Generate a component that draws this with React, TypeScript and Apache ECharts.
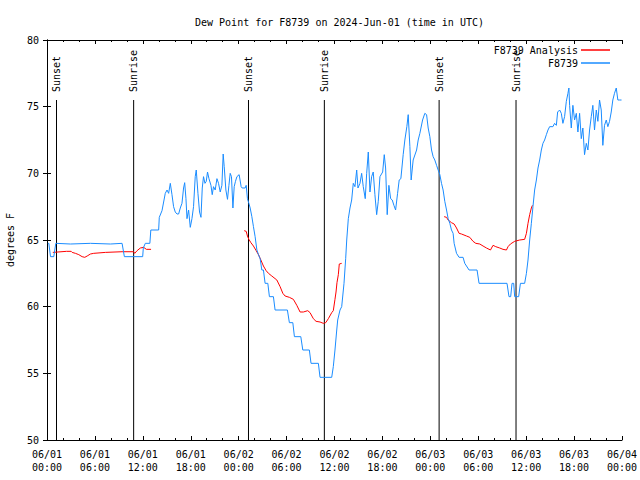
import React, { useEffect, useRef } from "react";
import * as echarts from "echarts";

const FONT = "'DejaVu Sans Mono', 'Liberation Mono', monospace";

const chartTitle = "Dew Point for F8739 on 2024-Jun-01 (time in UTC)";
const yName = "degrees F";
const seriesNames = ["F8739 Analysis", "F8739"];

// hours since 2024-06-01 00:00 UTC
const blueHours = [
  0.1, 0.23, 0.44, 0.85, 1.1, 2.94, 5.44, 7.94, 9.4, 9.69, 11.98, 12.06, 12.31, 12.88, 13.0, 13.98,
  14.06, 14.4, 14.81, 15.03, 15.23, 15.44, 15.65, 15.85, 16.06, 16.28, 16.48, 16.69, 16.9, 17.1,
  17.24, 17.4, 17.53, 17.73, 17.94, 18.15, 18.35, 18.56, 18.69, 18.9, 19.1, 19.28, 19.44, 19.6,
  19.78, 19.94, 20.1, 20.28, 20.53, 20.69, 20.85, 21.06, 21.28, 21.48, 21.69, 21.9, 22.06, 22.19,
  22.4, 22.6, 22.78, 22.94, 23.1, 23.28, 23.44, 23.6, 23.78, 24.06, 24.31, 24.44, 24.81, 24.94,
  25.1, 25.28, 25.44, 25.65, 25.85, 26.06, 26.28, 26.48, 26.69, 26.9, 27.1, 27.31, 27.65, 27.85,
  28.35, 28.56, 30.1, 30.35, 30.78, 30.98, 31.78, 32.03, 32.85, 33.06, 33.98, 34.19, 35.65, 35.85,
  36.06, 36.28, 36.4, 36.69, 36.9, 37.19, 37.4, 37.53, 37.73, 37.94, 38.15, 38.35, 38.56, 38.78,
  38.94, 39.19, 39.4, 39.6, 39.85, 40.03, 40.23, 40.44, 40.65, 40.85, 41.06, 41.28, 41.48, 41.69,
  42.03, 42.23, 42.4, 42.6, 42.81, 43.03, 43.23, 43.44, 43.65, 43.9, 44.1, 44.31, 44.44, 44.6,
  44.81, 45.06, 45.23, 45.44, 45.6, 45.85, 46.28, 46.48, 46.69, 47.03, 47.31, 47.53, 47.73, 47.94,
  48.15, 48.35, 48.56, 48.78, 48.98, 49.19, 49.4, 49.6, 49.81, 50.03, 50.23, 50.44, 50.65, 50.85,
  50.98, 51.28, 51.6, 52.1, 52.31, 52.85, 53.85, 54.1, 57.6, 57.85, 58.06, 58.23, 58.44, 58.56,
  59.06, 59.28, 59.81, 60.03, 60.23, 60.44, 60.65, 60.85, 61.06, 61.28, 61.48, 61.69, 61.9, 62.1,
  62.31, 62.53, 62.73, 62.94, 63.35, 63.56, 63.78, 63.94, 64.19, 64.4, 64.6, 64.81, 65.03, 65.23,
  65.35, 65.44, 65.65, 65.85, 66.06, 66.28, 66.48, 66.69, 66.9, 67.1, 67.31, 67.53, 67.73, 67.94,
  68.15, 68.35, 68.56, 68.78, 68.98, 69.19, 69.4, 69.6, 69.81, 70.03, 70.23, 70.44, 70.65, 70.85,
  71.06, 71.28, 71.48, 71.69, 71.94,
];
const blueValues = [
  64.75, 64.75, 63.75, 63.75, 64.75, 64.7, 64.75, 64.7, 64.75, 63.75, 63.75, 64.4, 64.75, 64.75, 65.75, 65.75,
  66.7, 67.2, 68.5, 68.75, 68.5, 69.25, 68.4, 67.5, 67.1, 66.95, 66.95, 67.4, 67.75, 68.9,
  69.3, 68.1, 66.6, 67.25, 65.95, 66.6, 67.5, 69.75, 70.25, 68.5, 67.1, 66.7, 68.9, 69.75,
  69.25, 69.4, 70.1, 69.6, 69.1, 68.4, 69.0, 68.75, 69.6, 69.25, 68.6, 69.1, 71.45, 70.5,
  68.75, 68.05, 69.1, 70.0, 69.75, 67.4, 69.0, 69.4, 69.75, 69.9, 69.0, 68.9, 68.9, 69.1,
  68.1, 67.75, 67.4, 66.75, 66.0, 65.25, 64.25, 63.9, 63.6, 62.75, 62.75, 61.75, 61.75, 60.75,
  60.75, 59.75, 59.75, 58.8, 58.8, 57.75, 57.75, 56.75, 56.75, 55.75, 55.75, 54.7, 54.7, 55.5,
  56.75, 58.25, 59.0, 59.75, 60.0, 61.75, 63.6, 65.0, 66.6, 67.4, 68.0, 69.25, 69.0, 70.25,
  68.9, 69.25, 70.0, 69.0, 68.1, 70.0, 71.6, 68.6, 69.75, 70.1, 68.4, 66.9, 67.9, 69.75,
  70.1, 71.4, 70.4, 66.9, 69.1, 68.1, 68.0, 67.6, 67.25, 68.5, 69.5, 69.6, 70.4, 71.4,
  72.5, 73.5, 74.4, 72.0, 69.5, 71.0, 71.75, 72.5, 73.0, 74.0, 74.5, 74.4, 73.4, 72.75,
  71.75, 71.25, 71.0, 70.6, 70.25, 69.9, 69.25, 68.75, 67.9, 67.25, 66.6, 66.25, 65.75, 65.5,
  64.75, 64.0, 63.7, 63.7, 63.25, 62.75, 62.75, 61.75, 61.75, 60.75, 60.75, 61.75, 61.75, 60.75,
  60.75, 61.75, 61.75, 62.5, 63.5, 65.0, 66.25, 67.5, 68.75, 69.5, 70.4, 71.0, 71.75, 72.25,
  72.5, 72.9, 73.25, 73.5, 73.5, 73.75, 73.6, 74.6, 74.75, 74.5, 73.75, 74.25, 75.4, 76.0,
  76.4, 75.1, 73.4, 75.1, 74.0, 74.5, 73.1, 74.5, 72.6, 73.4, 71.4, 72.25, 71.75, 73.25,
  74.25, 75.1, 73.25, 74.75, 73.9, 75.5, 74.75, 72.1, 73.6, 74.0, 73.5, 73.9, 74.6, 75.5,
  76.0, 76.4, 75.5, 75.5, 75.5,
];

const redHours = [
  0.73, 2.44, 3.03, 3.15, 3.56, 3.98, 4.4, 4.73, 5.03, 5.44, 5.85, 7.31, 9.4, 10.85, 10.98, 11.28,
  11.69, 12.1, 12.44, 13.03,
  18.0,
  24.69, 24.94, 25.1, 25.28, 25.53, 25.85, 26.19, 26.48, 26.78, 27.1, 27.44, 27.73, 28.15, 28.78,
  29.19, 29.53, 29.81, 30.35, 30.85, 31.28, 31.69, 32.1, 32.65, 32.94, 33.35, 33.69, 34.19, 34.6,
  34.9, 35.23, 35.65, 35.85, 36.06, 36.19, 36.31, 36.48, 36.6, 36.9,
  43.0,
  49.73, 50.03, 50.23, 50.65, 50.98, 51.28, 51.6, 51.9, 52.53, 52.94, 53.35, 53.69, 54.19, 54.6,
  55.03, 55.53, 55.85, 56.19, 56.69, 57.1, 57.53, 57.73, 58.03, 58.56, 59.19, 59.81, 60.03, 60.23,
  60.44, 60.65, 60.78,
];
const redValues: (number | null)[] = [
  64.07, 64.15, 64.15, 64.07, 64.0, 63.9, 63.75, 63.7, 63.8, 63.95, 64.0, 64.07, 64.12, 64.12, 64.0, 64.2,
  64.4, 64.45, 64.3, 64.3,
  null,
  65.7, 65.65, 65.3, 65.05, 64.8, 64.55, 64.2, 63.9, 63.5, 63.05, 62.7, 62.5, 62.3, 62.0,
  61.5, 61.0, 60.8, 60.7, 60.55, 60.1, 59.6, 59.6, 59.7, 59.55, 59.1, 58.9, 58.85, 58.75,
  58.8, 59.1, 59.55, 59.7, 60.55, 61.1, 61.8, 62.4, 63.2, 63.25,
  null,
  66.75, 66.7, 66.5, 66.3, 66.2, 65.9, 65.5, 65.45, 65.3, 65.2, 64.9, 64.75, 64.7, 64.55,
  64.4, 64.25, 64.6, 64.5, 64.4, 64.3, 64.25, 64.5, 64.7, 64.9, 65.0, 65.05, 65.5, 66.25,
  66.9, 67.4, 67.6,
];

const sunHours = [1.19, 10.85, 25.23, 34.73, 49.1, 58.73];
const sunLabels = ["Sunset", "Sunrise", "Sunset", "Sunrise", "Sunset", "Sunrise"];
const sunLineTop = 75.5;
const sunLabelBase = 76.1;

const xMin = 0;
const xMax = 72;
const xStep = 6;
const yMin = 50;
const yMax = 80;
const yStep = 5;

function fmtX(v: number): string {
  const day = 1 + Math.floor(v / 24);
  const hh = v % 24;
  return `06/0${day}\n${hh < 10 ? "0" + hh : hh}:00`;
}

export default function App() {
  const ref = useRef<HTMLDivElement>(null);
  useEffect(() => {
    const chart = echarts.init(ref.current!, null, { renderer: "svg" });
    const txt = { fontFamily: FONT, fontSize: 10, color: "#000" };
    const axisLine = { show: true, lineStyle: { color: "#000", width: 1 } };
    const xBase = {
      type: "value",
      min: xMin,
      max: xMax,
      interval: xStep,
      axisLine,
      axisTick: { show: true, inside: true, length: 4, lineStyle: { color: "#000" } },
      minorTick: { show: true, splitNumber: 3, length: 2, lineStyle: { color: "#000" } },
      splitLine: { show: false },
    };
    const yBase = {
      type: "value",
      min: yMin,
      max: yMax,
      interval: yStep,
      axisLine,
      axisTick: { show: true, inside: true, length: 4, lineStyle: { color: "#000" } },
      splitLine: { show: false },
    };
    const legendBase = {
      right: 30,
      padding: 0,
      icon: "rect",
      itemWidth: 29,
      itemHeight: 1.5,
      align: "right",
      textStyle: { ...txt, padding: [0, -2, 0, 0] },
    };
    chart.setOption({
      animation: false,
      backgroundColor: "#fff",
      title: {
        text: chartTitle,
        left: 190,
        top: 12,
        textStyle: { ...txt, fontWeight: "normal" },
      },
      grid: { left: 47, right: 18, top: 40, bottom: 40, containLabel: false, outerBoundsMode: "none" },
      legend: [
        { ...legendBase, data: [seriesNames[0]], top: 45 },
        { ...legendBase, data: [seriesNames[1]], top: 58 },
      ],
      xAxis: [
        {
          ...xBase,
          position: "bottom",
          axisLabel: { ...txt, formatter: fmtX, lineHeight: 13, margin: 8 },
        },
        {
          ...xBase,
          position: "top",
          axisLabel: { show: false },
        },
      ],
      yAxis: [
        {
          ...yBase,
          position: "left",
          axisLabel: { ...txt, margin: 8 },
          name: yName,
          nameLocation: "middle",
          nameRotate: 90,
          nameGap: 32,
          nameTextStyle: txt,
        },
        {
          ...yBase,
          position: "right",
          axisLabel: { show: false },
        },
      ],
      series: [
        {
          name: seriesNames[0],
          type: "line",
          showSymbol: false,
          symbol: "none",
          connectNulls: false,
          color: "#ff0000",
          lineStyle: { width: 1, color: "#ff0000" },
          data: redHours.map((h, i) => [h, redValues[i] === null ? "-" : redValues[i]]),
          z: 2,
        },
        {
          name: seriesNames[1],
          type: "line",
          showSymbol: false,
          symbol: "none",
          color: "#1a8cff",
          lineStyle: { width: 1, color: "#1a8cff" },
          data: blueHours.map((h, i) => [h, blueValues[i]]),
          z: 3,
        },
        {
          name: "sun",
          type: "custom",
          data: sunHours.map((h) => [h, sunLineTop]),
          encode: { x: 0, y: 1 },
          z: 1,
          renderItem: (params: any, api: any) => {
            const x = api.value(0);
            const top = api.coord([x, sunLineTop]);
            const bot = api.coord([x, yMin]);
            const lab = api.coord([x, sunLabelBase]);
            return {
              type: "group",
              children: [
                {
                  type: "line",
                  shape: { x1: bot[0], y1: bot[1], x2: top[0], y2: top[1] },
                  style: { stroke: "#000", lineWidth: 1 },
                },
                {
                  type: "text",
                  x: lab[0],
                  y: lab[1],
                  rotation: Math.PI / 2,
                  style: {
                    text: sunLabels[params.dataIndex],
                    fill: "#000",
                    fontFamily: FONT,
                    fontSize: 10,
                    align: "left",
                    verticalAlign: "middle",
                  },
                },
              ],
            };
          },
        },
      ],
    });
    return () => chart.dispose();
  }, []);
  return (
    <div
      ref={ref}
      style={{ position: "fixed", left: 0, top: 0, width: 640, height: 480, background: "#fff" }}
    />
  );
}
